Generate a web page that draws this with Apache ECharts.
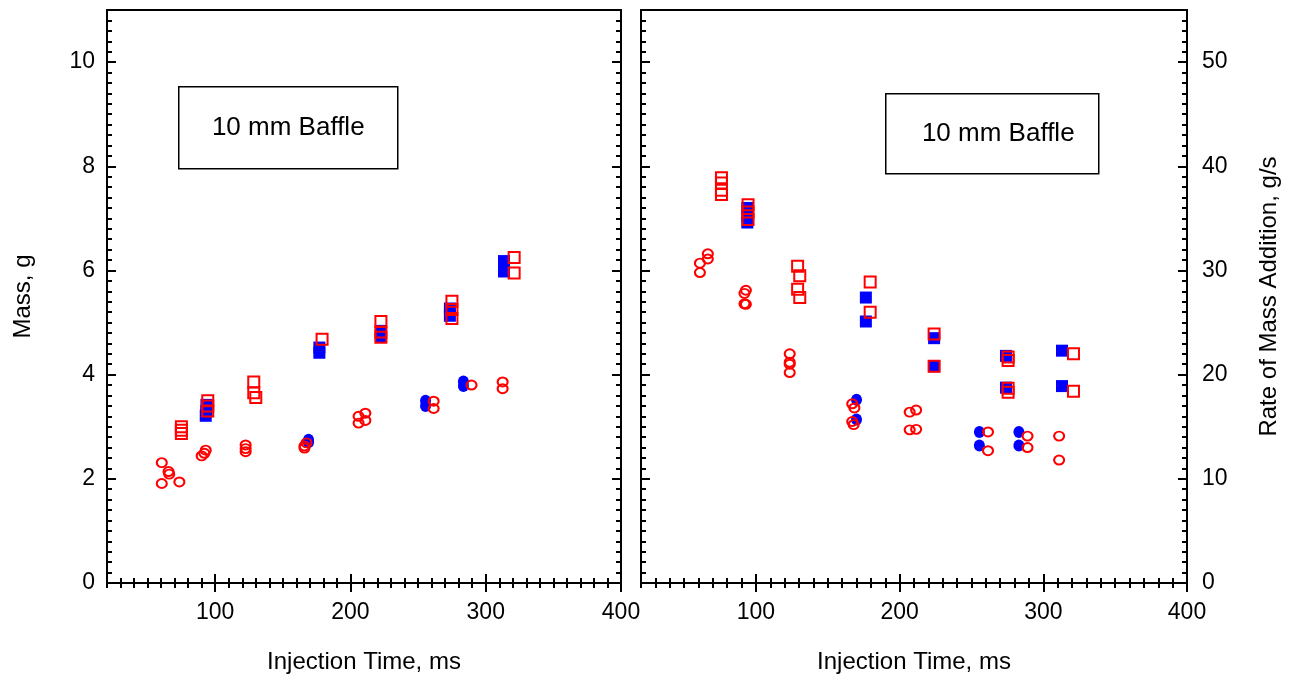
<!DOCTYPE html>
<html>
<head>
    <meta charset="UTF-8">
    <title>10 mm Baffle</title>
    <script src="https://cdn.jsdelivr.net/npm/echarts@6/dist/echarts.min.js"></script>
</head>
<body style="margin:0">
    <div id='chart' style='width:1292px; height:679px;'></div>

    <script>
        // injection time (ms), mass (g) -- left panel
        var massSolidSquares = [[93.5, 3.42], [93.5, 3.3], [93, 3.21], [177, 4.52], [177, 4.42], [222.5, 4.84], [222.5, 4.74],
            [273.5, 5.27], [273.5, 5.13], [313.5, 6.18], [313.5, 6.08], [313.5, 5.98]];
        var massOpenSquares = [[75, 3.0], [75, 2.93], [75, 2.87], [94.5, 3.5], [94.5, 3.4], [94.5, 3.3], [128.5, 3.86], [128.5, 3.65],
            [130, 3.56], [179, 4.68], [222.5, 5.02], [222.5, 4.82], [222.5, 4.72], [275, 5.41], [275, 5.25], [275, 5.08],
            [321, 6.25], [321, 5.95]];
        var massSolidCircles = [[169, 2.75], [169, 2.7], [255.5, 3.5], [255.5, 3.4], [283.5, 3.87], [283.5, 3.78]];
        var massOpenCircles = [[60.5, 2.31], [65.5, 2.14], [66, 2.09], [60.5, 1.91], [73.5, 1.94], [90, 2.44], [92, 2.49], [93, 2.55],
            [122.5, 2.65], [122.5, 2.58], [122.5, 2.52], [166, 2.63], [167.5, 2.69], [166, 2.59], [206, 3.07], [211, 3.12],
            [206, 3.2], [211, 3.26], [261.5, 3.49], [261.5, 3.35], [289.5, 3.8], [312.5, 3.86], [312.5, 3.73]];

        // injection time (ms), rate of mass addition (g/s) -- right panel
        var rateSolidSquares = [[94, 36.0], [94, 35.3], [94, 34.6], [176.5, 27.4], [176.5, 25.1], [224, 23.5], [224, 20.8],
            [274, 21.8], [274, 18.75], [313, 22.3], [313, 18.9]];
        var rateOpenSquares = [[76, 38.9], [76, 38.4], [76, 37.7], [76, 37.3], [94.5, 36.3], [94.5, 35.6], [94.5, 34.9],
            [129, 30.4], [130.5, 29.5], [129, 28.2], [130.5, 27.4], [179.5, 28.9], [179.5, 26.0], [224, 23.9], [224, 20.8],
            [275.5, 21.7], [275.5, 21.35], [275.5, 18.7], [275.5, 18.3], [321, 22.0], [321, 18.4]];
        var rateSolidCircles = [[170, 17.6], [170, 15.7], [255.5, 14.5], [255.5, 13.2], [283, 14.5], [283, 13.2]];
        var rateOpenCircles = [[61, 30.7], [61, 29.8], [66.5, 31.6], [66.5, 31.1], [93, 28.1], [92, 27.8], [92, 26.8], [93, 26.75],
            [123.5, 22.0], [123.5, 21.2], [123.5, 21.0], [123.5, 20.2], [167, 17.2], [168.5, 16.8], [167, 15.5], [168, 15.2],
            [207, 16.4], [211.5, 16.6], [207, 14.7], [211.5, 14.75], [261.5, 14.5], [261.5, 12.7], [289, 14.1], [289, 13.0],
            [311, 14.1], [311, 11.8]];

        var timeTicks = [100, 200, 300, 400];
        var massTicks = [0, 2, 4, 6, 8, 10];
        var rateTicks = [0, 10, 20, 30, 40, 50];

        var font = 'Liberation Sans, Arial, sans-serif';
        var black = '#000';

        function majorAxis(grid, pos, min, max, ticks, showLabels, name, nameGap) {
            return {
                type: 'value', gridIndex: grid, position: pos, min: min, max: max,
                axisLine: { show: false },
                splitLine: { show: false },
                axisTick: { show: true, inside: true, length: 9, customValues: ticks, lineStyle: { color: black, width: 2 } },
                axisLabel: { show: showLabels, customValues: ticks, color: black, fontSize: 23, fontFamily: font, margin: 12 },
                name: name || '', nameLocation: 'middle', nameGap: nameGap || 0,
                nameRotate: (pos === 'left' || pos === 'right') ? 90 : 0,
                nameTextStyle: { color: black, fontSize: 24, fontFamily: font }
            };
        }

        function minorAxis(grid, pos, min, max, step) {
            return {
                type: 'value', gridIndex: grid, position: pos, min: min, max: max, interval: step,
                axisLine: { show: false },
                splitLine: { show: false },
                axisLabel: { show: false },
                axisTick: { show: true, inside: true, length: 5, lineStyle: { color: black, width: 2 } }
            };
        }

        var xAxes = [
            majorAxis(0, 'bottom', 20, 400, timeTicks, true, 'Injection Time, ms', 67),
            minorAxis(0, 'bottom', 20, 400, 10),
            majorAxis(0, 'top', 20, 400, timeTicks, false),
            minorAxis(0, 'top', 20, 400, 10),
            majorAxis(1, 'bottom', 20, 400, timeTicks, true, 'Injection Time, ms', 67),
            minorAxis(1, 'bottom', 20, 400, 10),
            majorAxis(1, 'top', 20, 400, timeTicks, false),
            minorAxis(1, 'top', 20, 400, 10)
        ];
        xAxes[0].axisLabel.margin = 18;
        xAxes[4].axisLabel.margin = 18;

        var yAxes = [
            majorAxis(0, 'left', 0, 11, massTicks, true, 'Mass, g', 72),
            minorAxis(0, 'left', 0, 11, 0.2),
            majorAxis(0, 'right', 0, 11, massTicks, false),
            minorAxis(0, 'right', 0, 11, 0.2),
            majorAxis(1, 'right', 0, 55, rateTicks, true, 'Rate of Mass Addition, g/s', 70),
            minorAxis(1, 'right', 0, 55, 1),
            majorAxis(1, 'left', 0, 55, rateTicks, false),
            minorAxis(1, 'left', 0, 55, 1)
        ];
        yAxes[4].axisLabel.margin = 15;

        function solidSeries(data, sym, size, xi, yi) {
            return {
                type: 'scatter', data: data, symbol: sym, symbolSize: size, xAxisIndex: xi, yAxisIndex: yi,
                itemStyle: { color: '#0000ff', opacity: 1 }, z: 2
            };
        }
        function openSeries(data, sym, size, xi, yi) {
            return {
                type: 'scatter', data: data, symbol: sym, symbolSize: size, xAxisIndex: xi, yAxisIndex: yi,
                itemStyle: { color: 'rgba(0,0,0,0)', borderColor: '#ff0000', borderWidth: 2, opacity: 1 }, z: 3
            };
        }

        function noteBox(x, y, w, h, text, shift) {
            return {
                type: 'group', left: x, top: y,
                children: [
                    { type: 'rect', shape: { x: 0, y: 0, width: w, height: h }, style: { fill: '#fff', stroke: black, lineWidth: 1.5 } },
                    { type: 'text', x: w / 2 + shift, y: h / 2, style: { text: text, fill: black, font: '26px ' + font, textAlign: 'center', textVerticalAlign: 'middle' } }
                ]
            };
        }

        var chart = echarts.init(document.getElementById('chart'));
        var option = {
            animation: false,
            backgroundColor: '#fff',
            grid: [
                { left: 107, right: 671, top: 10, bottom: 96, show: true, borderColor: black, borderWidth: 2, backgroundColor: 'transparent' },
                { left: 641, right: 105, top: 10, bottom: 96, show: true, borderColor: black, borderWidth: 2, backgroundColor: 'transparent' }
            ],
            xAxis: xAxes,
            yAxis: yAxes,
            graphic: [
                noteBox(178, 86, 219, 82, '10 mm Baffle', 0),
                noteBox(885, 93, 213, 80, '10 mm Baffle', 6)
            ],
            series: [
                solidSeries(massSolidSquares, 'rect', 12, 0, 0),
                solidSeries(massSolidCircles, 'circle', [11, 12], 0, 0),
                openSeries(massOpenSquares, 'rect', 11, 0, 0),
                openSeries(massOpenCircles, 'circle', [10, 9], 0, 0),
                solidSeries(rateSolidSquares, 'rect', 12, 4, 4),
                solidSeries(rateSolidCircles, 'circle', [11, 12], 4, 4),
                openSeries(rateOpenSquares, 'rect', 11, 4, 4),
                openSeries(rateOpenCircles, 'circle', [10, 9], 4, 4)
            ]
        };
        chart.setOption(option);
    </script>
</body>
</html>
